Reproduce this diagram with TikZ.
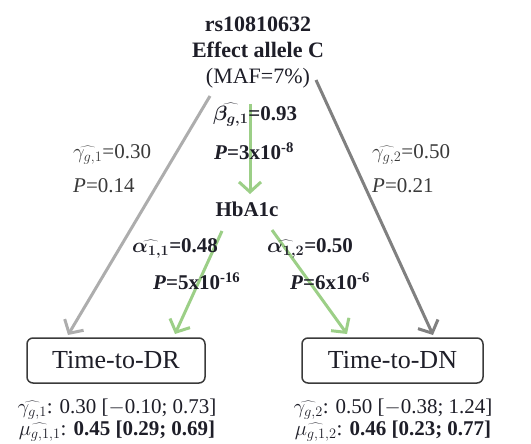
\documentclass[tikz,border=0pt]{standalone}
\usepackage{fontspec}
\setmainfont{Liberation Serif}
\usetikzlibrary{arrows.meta}
\definecolor{grayL}{HTML}{ADADAD}
\definecolor{grayD}{HTML}{808080}
\definecolor{greenA}{HTML}{9CCF87}
\definecolor{txt}{HTML}{1E1E28}
\definecolor{lbl}{HTML}{3A3A3A}
\definecolor{boxc}{HTML}{3A3A3A}
\begin{document}
\begin{tikzpicture}[x=1pt,y=-1pt,
  lab/.style={font=\fontsize{21}{24}\selectfont, inner sep=0pt, text=lbl, anchor=west},
  blab/.style={font=\fontsize{21}{24}\selectfont\bfseries\boldmath, inner sep=0pt, text=txt, anchor=west},
  boxnode/.style={draw=boxc, line width=1.5pt, rounded corners=6pt, inner sep=0pt,
    font=\fontsize{26}{28}\selectfont, text=txt, minimum height=45pt},
  con/.style={line width=3pt, -{Straight Barb[length=10pt,width=22pt,line width=3pt]}},
  btxt/.style={font=\fontsize{21}{24}\selectfont, inner sep=0pt, text=txt}
]
\useasboundingbox (0,0) rectangle (531,444);

% top node
\node[inner sep=0pt, align=center, text=txt, font=\fontsize{22}{26}\selectfont] (snp) at (258,53)
  {\textbf{rs10810632}\\\textbf{Effect allele C}\\(MAF=7\%)};

% mediator
\node[inner sep=0pt, text=txt, font=\fontsize{21}{24}\selectfont\bfseries] (hba) at (247,209) {HbA1c};

% outcome boxes
\node[boxnode, minimum width=178pt] (dr) at (116,360.5) {Time-to-DR};
\node[boxnode, minimum width=181pt] (dn) at (392.5,360.5) {Time-to-DN};

% connector end points
\coordinate (gls) at (210,96);
\coordinate (gle) at (68,335);
\coordinate (grs) at (316,80);
\coordinate (gre) at (433,335);
\coordinate (bs) at (250,104);
\coordinate (be) at (250,194);
\coordinate (als) at (222,231);
\coordinate (ale) at (175,334);
\coordinate (ars) at (272,230);
\coordinate (are) at (347,334);

\draw[con, grayL] (gls) -- (gle);
\draw[con, grayD] (grs) -- (gre);
\draw[con, greenA] (bs) -- (be);
\draw[con, greenA] (als) -- (ale);
\draw[con, greenA] (ars) -- (are);

% labels
\node[blab] (bl1) at (213,115) {$\widehat{\beta_{g,1}}$=0.93};
\node[blab] (bl2) at (214,151) {\textit{P}=3x10\textsuperscript{-8}};

\node[lab] (gl1) at (73,154) {$\widehat{\gamma_{g,1}}$=0.30};
\node[lab] (gl2) at (73,186) {\textit{P}=0.14};
\node[lab] (gr1) at (372,154) {$\widehat{\gamma_{g,2}}$=0.50};
\node[lab] (gr2) at (372,186) {\textit{P}=0.21};

\node[blab] (al1) at (132,248) {$\widehat{\alpha_{1,1}}$=0.48};
\node[blab] (al2) at (153,281) {\textit{P}=5x10\textsuperscript{-16}};
\node[blab] (ar1) at (267,248) {$\widehat{\alpha_{1,2}}$=0.50};
\node[blab] (ar2) at (290,281) {\textit{P}=6x10\textsuperscript{-6}};

% bottom results
\node[btxt] (dr1) at (117,409) {$\widehat{\gamma_{g,1}}$: 0.30 [$-$0.10; 0.73]};
\node[btxt] (dr2) at (117,431) {$\widehat{\mu_{g,1,1}}$: \textbf{0.45 [0.29; 0.69]}};
\node[btxt] (dn1) at (393,409) {$\widehat{\gamma_{g,2}}$: 0.50 [$-$0.38; 1.24]};
\node[btxt] (dn2) at (393,431) {$\widehat{\mu_{g,1,2}}$: \textbf{0.46 [0.23; 0.77]}};
\end{tikzpicture}
\end{document}
